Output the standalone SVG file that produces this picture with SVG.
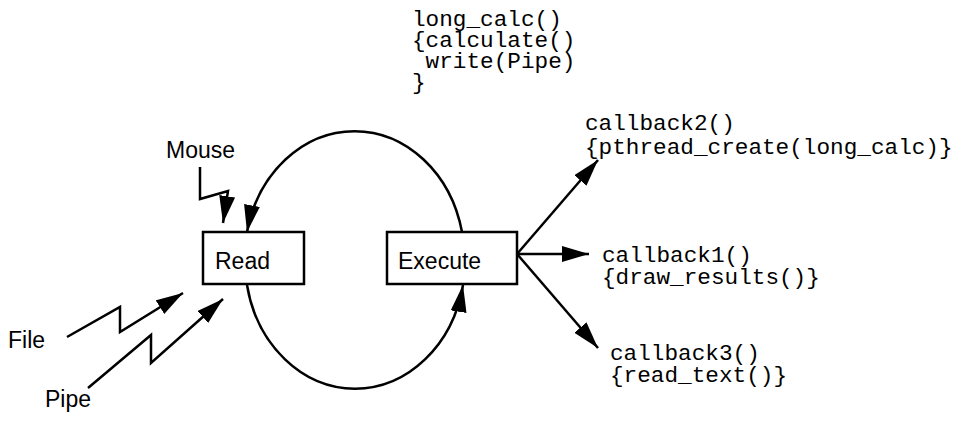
<svg xmlns="http://www.w3.org/2000/svg" width="974" height="422" viewBox="0 0 974 422">
<defs>
<style>
.sans{font-family:"Liberation Sans",Arial,sans-serif;font-size:23px;fill:#000}
.mono{font-family:"Liberation Mono","Courier New",monospace;font-size:22.7px;fill:#000}
.box{fill:#fff;stroke:#000;stroke-width:2.5}
.ln{fill:none;stroke:#000;stroke-width:2.5;stroke-linejoin:miter}
</style>
<marker id="ah" markerUnits="userSpaceOnUse" markerWidth="30" markerHeight="20" refX="27" refY="8" orient="auto">
<path d="M0,0 L27,8 L0,16 z" fill="#000"/>
</marker>
</defs>
<rect width="974" height="422" fill="#fff"/>
<g id="connectors">
<path class="ln" d="M462,232 A110,128 0 0 0 247,232" marker-end="url(#ah)"/>
<path class="ln" d="M247,285 A110,128 0 0 0 463,285" marker-end="url(#ah)"/>
<polyline class="ln" points="200,167 200,199 228,191 223,223" marker-end="url(#ah)"/>
<polyline class="ln" points="67,337 120,307 120,332 183,293" marker-end="url(#ah)"/>
<polyline class="ln" points="88,388 151,335 151,363 223,299" marker-end="url(#ah)"/>
<line class="ln" x1="517" y1="254" x2="598" y2="160" marker-end="url(#ah)"/>
<line class="ln" x1="517" y1="254" x2="589" y2="254" marker-end="url(#ah)"/>
<line class="ln" x1="517" y1="254" x2="598" y2="348" marker-end="url(#ah)"/>
</g>
<g id="read">
<rect class="box" x="203" y="232" width="101" height="52"/>
<text class="sans" x="215" y="269">Read</text>
</g>
<g id="execute">
<rect class="box" x="387" y="232" width="130" height="52"/>
<text class="sans" x="398" y="269">Execute</text>
</g>
<g id="mouse"><text class="sans" x="166" y="158">Mouse</text></g>
<g id="file"><text class="sans" x="8" y="348">File</text></g>
<g id="pipe"><text class="sans" x="45" y="407">Pipe</text></g>
<g id="long_calc">
<text class="mono" xml:space="preserve"><tspan x="412" y="26">long_calc()</tspan><tspan x="412" y="47">{calculate()</tspan><tspan x="412" y="68"> write(Pipe)</tspan><tspan x="412" y="89">}</tspan></text>
</g>
<g id="callback2">
<text class="mono"><tspan x="585" y="130">callback2()</tspan><tspan x="585" y="154">{pthread_create(long_calc)}</tspan></text>
</g>
<g id="callback1">
<text class="mono"><tspan x="602" y="262">callback1()</tspan><tspan x="602" y="284">{draw_results()}</tspan></text>
</g>
<g id="callback3">
<text class="mono"><tspan x="610" y="360">callback3()</tspan><tspan x="610" y="382">{read_text()}</tspan></text>
</g>
</svg>
